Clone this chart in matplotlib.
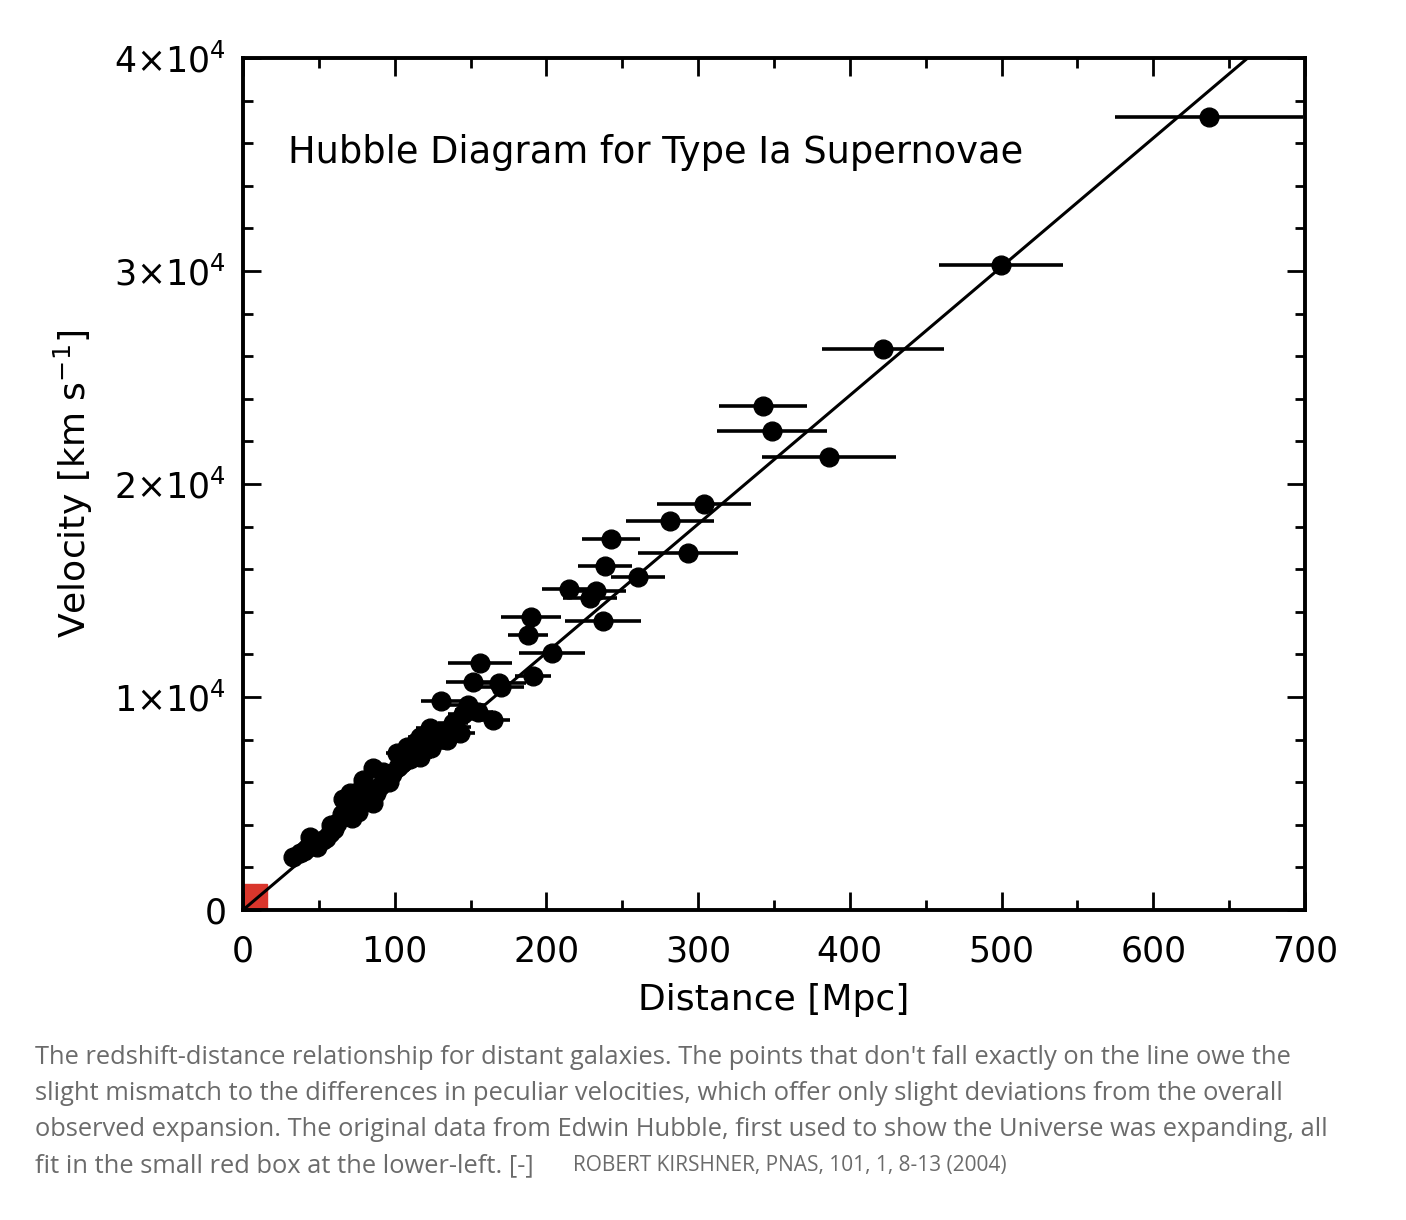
import matplotlib
matplotlib.use("Agg")
import matplotlib.pyplot as plt
from matplotlib.patches import Rectangle
from matplotlib.ticker import MultipleLocator, FuncFormatter

# supernova data: distance [Mpc], velocity [km/s], distance error [Mpc]
dist = [636.7, 499.6, 421.9, 342.8, 348.7, 386.3, 303.9, 281.5, 293.3, 242.6,
        238.6, 260.4, 214.9, 232.7, 228.7, 237.3, 189.8, 187.9, 203.7, 156.2,
        151.6, 168.7, 170.0, 191.0, 130.5, 148.3, 164.8,
        138.4, 143.0, 134.5, 123.3, 116.7, 116.7, 108.1, 101.5, 94.9, 85.7,
        85.7, 79.1, 70.5, 68.6, 62.0, 57.3, 52.7, 48.8, 44.2, 42.2,
        37.6, 33.0,
        127, 112, 105, 98, 90, 82, 75, 72, 65, 60,
        55, 47, 40, 120, 130, 145, 140, 102, 110, 78,
        66, 92, 150, 155, 88, 96, 76, 58, 114, 124]
vel = [37230, 30280, 26340, 23660, 22490, 21270, 19060, 18260, 16760, 17420,
       16150, 15630, 15070, 14980, 14650, 13570, 13760, 12910, 12070, 11600,
       10700, 10660, 10450, 10990, 9810, 9620, 8920,
       8780, 8310, 7980, 8545, 8120, 7180, 7650, 7370, 6100, 6670,
       5020, 6100, 5490, 4700, 4090, 3620, 3290, 2960, 3430, 2910,
       2680, 2490,
       8200, 7400, 6900, 6400, 5800, 5400, 5000, 4300, 4500, 3800,
       3400, 3200, 2750, 7700, 8300, 9200, 8600, 6700, 7100, 5700,
       5200, 6500, 9400, 9300, 5500, 6000, 4600, 4000, 7900, 7600]
dist_err = [62, 41, 40, 29, 36, 44, 31, 29, 33, 19,
            18, 18, 18, 20, 18, 25, 20, 13, 22, 21,
            18, 18, 15, 12, 13, 12, 11,
            10, 10, 9, 9, 8, 8, 8, 7, 7, 6,
            6, 6, 5, 5, 5, 4, 4, 4, 4, 3,
            3, 3,
            9, 8, 7, 7, 6, 6, 5, 5, 5, 4,
            4, 4, 3, 8, 9, 10, 10, 7, 8, 6,
            5, 7, 10, 10, 6, 7, 5, 4, 8, 9]

# Hubble constant of the fitted line [km/s/Mpc]
H0 = 60.4
# extent of Hubble's original data (red box)
box_dist = 16
box_vel = 1200

caption = [
    "The redshift-distance relationship for distant galaxies. The points that don't fall exactly on the line owe the",
    "slight mismatch to the differences in peculiar velocities, which offer only slight deviations from the overall",
    "observed expansion. The original data from Edwin Hubble, first used to show the Universe was expanding, all",
    "fit in the small red box at the lower-left. [-]",
]
credit = "ROBERT KIRSHNER, PNAS, 101, 1, 8-13 (2004)"

plt.rcParams['mathtext.fontset'] = 'dejavusans'

fig = plt.figure(figsize=(14.06, 12.2), dpi=100)
ax = fig.add_axes([0.1728, 0.2541, 0.9282 - 0.1728, 0.9525 - 0.2541])

ax.add_patch(Rectangle((0, 0), box_dist, box_vel, color='#d9362c', zorder=1))
ax.plot([0, 700], [0, 700 * H0], color='black', lw=2.2, zorder=2)
ax.errorbar(dist, vel, xerr=dist_err, fmt='o', color='black', ms=13.5,
            elinewidth=2.6, capsize=0, zorder=3)

ax.set_xlim(0, 700)
ax.set_ylim(0, 40000)
ax.xaxis.set_major_locator(MultipleLocator(100))
ax.xaxis.set_minor_locator(MultipleLocator(50))
ax.yaxis.set_major_locator(MultipleLocator(10000))
ax.yaxis.set_minor_locator(MultipleLocator(2000))


def yfmt(v, pos):
    if v == 0:
        return '0'
    return r'$%d{\times}10^4$' % round(v / 10000)


ax.yaxis.set_major_formatter(FuncFormatter(yfmt))
ax.tick_params(which='both', direction='in', top=True, right=True,
               width=2, labelsize=25, color='black')
ax.tick_params(which='major', length=13)
ax.tick_params(axis='x', which='major', pad=18)
ax.tick_params(axis='y', which='major', pad=12)
ax.tick_params(which='minor', length=7)
for s in ax.spines.values():
    s.set_linewidth(2.8)

ax.set_xlabel('Distance [Mpc]', fontsize=26, labelpad=10)
ax.set_ylabel(r'Velocity [km s$^{-1}$]', fontsize=26, labelpad=14)
ax.text(30, 35540, 'Hubble Diagram for Type Ia Supernovae', fontsize=26.5,
        va='center', ha='left')

ys = [1057, 1093, 1129, 1166]
for line, yp in zip(caption, ys):
    fig.text(35 / 1406, 1 - yp / 1220, line, fontsize=18.4, family='Open Sans',
             color='#6b6b6b', va='center', ha='left')
fig.text(573 / 1406, 1 - 1166 / 1220, credit, fontsize=15, family='Open Sans',
         color='#6b6b6b', va='center', ha='left')

plt.savefig('out.png', dpi=100)
